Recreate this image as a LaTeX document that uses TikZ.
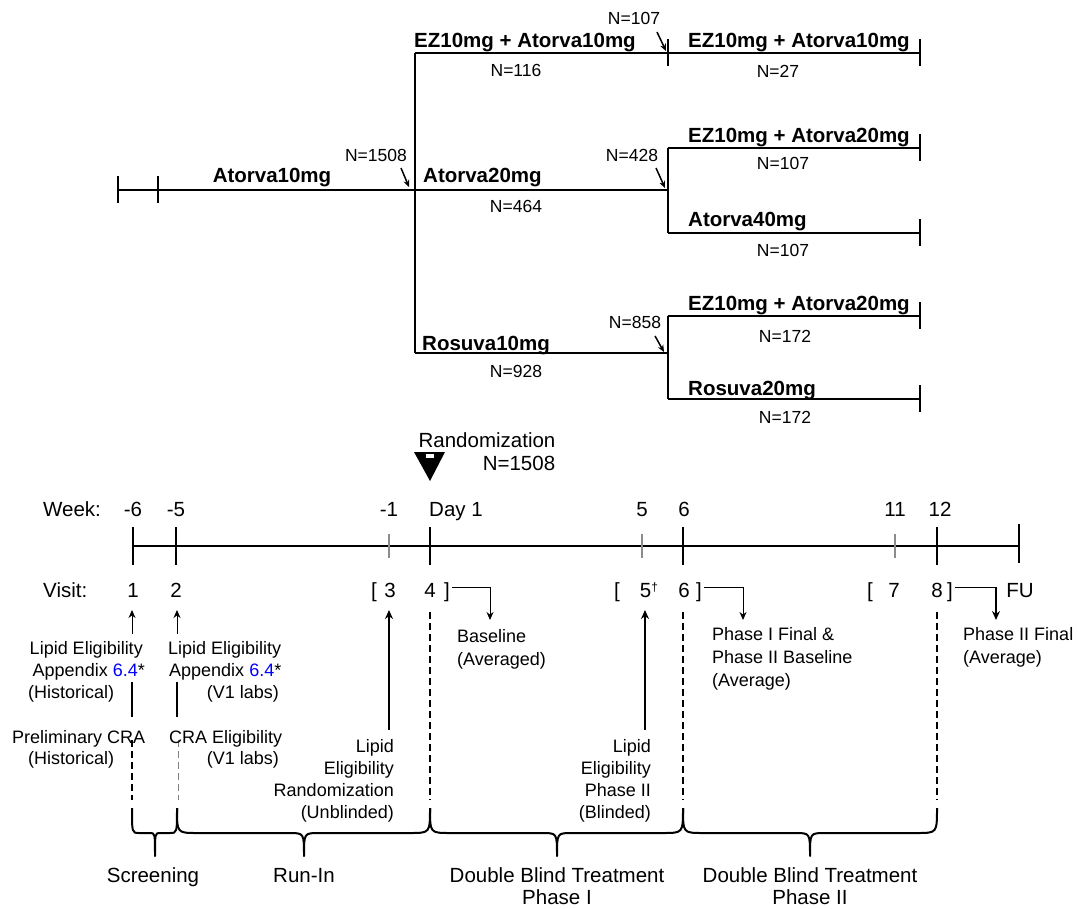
\documentclass[tikz,border=0pt]{standalone}
\usepackage{fontspec}
\setmainfont{Liberation Sans}
\usetikzlibrary{arrows.meta}
\newcommand{\drawbrace}[5]{%
  \draw[brc] (#1,808) .. controls (#1,833) .. (#1+#4,833) -- (#3-#5,833)
    .. controls (#3,833) .. (#3,856) .. controls (#3,833) .. (#3+#5,833)
    -- (#2-#4,833) .. controls (#2,833) .. (#2,808);}
\begin{document}
\begin{tikzpicture}[x=1pt,y=-1pt,
  tree/.style={line width=2.5pt},
  tck/.style={line width=2.2pt},
  gtck/.style={line width=1.6pt, draw=black!45},
  tline/.style={line width=2.8pt},
  bl/.style={font=\fontsize{20.5}{24}\selectfont\bfseries, inner sep=0pt},
  nl/.style={font=\fontsize{17.5}{21}\selectfont, inner sep=0pt},
  tl/.style={font=\fontsize{20.5}{24}\selectfont, inner sep=0pt},
  an/.style={font=\fontsize{18}{22}\selectfont, inner sep=0pt},
  sarr/.style={line width=1.5pt, -{Stealth[length=7pt,width=6pt]}},
  uarr/.style={line width=1pt, -{Stealth[length=8pt,width=7pt]}},
  barr/.style={line width=2.2pt, -{Stealth[length=9pt,width=8pt]}},
  dsh/.style={line width=2.2pt, dash pattern=on 7pt off 4pt},
  gdsh/.style={line width=0.8pt, draw=black!50, dash pattern=on 7pt off 4pt},
  brc/.style={line width=2pt, line join=round}]
\useasboundingbox (0,0) rectangle (1078,909);
% ---------------- tree ----------------
\coordinate (s0) at (118,190);
\coordinate (s1) at (158,190);
\coordinate (bT) at (415,53);
\coordinate (bB) at (415,353);
\coordinate (c1) at (668,53);
\coordinate (e1) at (920,53);
\coordinate (c2) at (668,190);
\coordinate (c2T) at (668,148);
\coordinate (c2B) at (668,233);
\coordinate (e2) at (920,148);
\coordinate (e3) at (920,233);
\coordinate (c3) at (668,353);
\coordinate (c3T) at (668,316);
\coordinate (c3B) at (668,399);
\coordinate (e4) at (920,316);
\coordinate (e5) at (920,399);
\draw[tree] (s0) -- (c2);
\draw[tree] (bT) -- (bB);
\draw[tree] (bT) -- (c1) -- (e1);
\draw[tree] (bB) -- (c3);
\draw[tree] (c2T) -- (c2B);
\draw[tree] (c2T) -- (e2);
\draw[tree] (c2B) -- (e3);
\draw[tree] (c3T) -- (c3B);
\draw[tree] (c3T) -- (e4);
\draw[tree] (c3B) -- (e5);
\foreach \p in {s0,s1,c1,e1,e2,e3,e4,e5}
  \draw[tck] ([yshift=14pt]\p) -- ([yshift=-13pt]\p);
\node[bl, anchor=base] (lA10) at (272,183) {Atorva10mg};
\node[bl, anchor=base west] (lEZa) at (414,48) {EZ10mg + Atorva10mg};
\node[bl, anchor=base west] (lA20) at (423,183) {Atorva20mg};
\node[bl, anchor=base west] (lR10) at (422,350) {Rosuva10mg};
\node[bl, anchor=base west] (lEZb) at (688,48) {EZ10mg + Atorva10mg};
\node[bl, anchor=base west] (lEZc) at (688,143) {EZ10mg + Atorva20mg};
\node[bl, anchor=base west] (lA40) at (688,227) {Atorva40mg};
\node[bl, anchor=base west] (lEZd) at (688,310) {EZ10mg + Atorva20mg};
\node[bl, anchor=base west] (lR20) at (688,395) {Rosuva20mg};
\node[nl, anchor=base] (n116) at (516,77) {N=116};
\node[nl, anchor=base] (n464) at (516,213) {N=464};
\node[nl, anchor=base] (n928) at (516,377) {N=928};
\node[nl, anchor=base] (n27) at (778,78) {N=27};
\node[nl, anchor=base] (n107a) at (783,170) {N=107};
\node[nl, anchor=base] (n107b) at (783,256) {N=107};
\node[nl, anchor=base] (n172a) at (785,342) {N=172};
\node[nl, anchor=base] (n172b) at (785,423) {N=172};
\node[nl, anchor=base] (n1508) at (376,162) {N=1508};
\node[nl, anchor=base] (n107t) at (634,25) {N=107};
\node[nl, anchor=base] (n428) at (632,162) {N=428};
\node[nl, anchor=base] (n858) at (635,328) {N=858};
\coordinate (a1s) at (401,168); \coordinate (a1e) at (409,187);
\coordinate (a2s) at (657,32);  \coordinate (a2e) at (666,51);
\coordinate (a3s) at (656,168); \coordinate (a3e) at (665,188);
\coordinate (a4s) at (655,336); \coordinate (a4e) at (664,352);
\draw[sarr] (a1s) -- (a1e);
\draw[sarr] (a2s) -- (a2e);
\draw[sarr] (a3s) -- (a3e);
\draw[sarr] (a4s) -- (a4e);
% ---------------- randomization ----------------
\node[tl, anchor=base] (rand) at (487,447) {Randomization};
\node[tl, anchor=base] (randN) at (519,470) {N=1508};
\fill (414,452) -- (445,452) -- (430,481) -- cycle;
\draw[fill=white, line width=0.6pt] (425.5,453) rectangle (434.5,458);
% ---------------- timeline ----------------
\coordinate (tm6) at (133,546);
\coordinate (tm5) at (176,546);
\coordinate (tm1) at (389,546);
\coordinate (t0) at (430,546);
\coordinate (t5) at (642,546);
\coordinate (t6) at (683,546);
\coordinate (t11) at (895,546);
\coordinate (t12) at (937,546);
\coordinate (tend) at (1019,546);
\draw[tline] (tm6) -- (tend);
\foreach \p in {tm6,tm5,t0,t6,t12}
  \draw[tck] ([yshift=19pt]\p) -- ([yshift=-19pt]\p);
\draw[tck] ([yshift=22pt]tend) -- ([yshift=-17pt]tend);
\foreach \p in {tm1,t5,t11}
  \draw[gtck] ([yshift=12pt]\p) -- ([yshift=-12pt]\p);
\node[tl, anchor=base west] (wk) at (43,516) {Week:};
\node[tl, anchor=base] (w1) at (133,516) {-6};
\node[tl, anchor=base] (w2) at (176,516) {-5};
\node[tl, anchor=base] (w3) at (389,516) {-1};
\node[tl, anchor=base west] (w4) at (429,516) {Day 1};
\node[tl, anchor=base] (w5) at (642,516) {5};
\node[tl, anchor=base] (w6) at (684,516) {6};
\node[tl, anchor=base] (w7) at (895,516) {11};
\node[tl, anchor=base] (w8) at (940,516) {12};
\node[tl, anchor=base west] (vs) at (43,597) {Visit:};
\node[tl, anchor=base] (v1) at (133,597) {1};
\node[tl, anchor=base] (v2) at (176,597) {2};
\node[tl, anchor=base] (lb3) at (374,597) {[};
\node[tl, anchor=base] (v3) at (390,597) {3};
\node[tl, anchor=base] (v4) at (430,597) {4};
\node[tl, anchor=base] (rb4) at (447,597) {]};
\node[tl, anchor=base] (lb5) at (617,597) {[};
\node[tl, anchor=base] (v5) at (649,597) {5{\fontsize{12}{12}\selectfont\raisebox{6pt}{†}}};
\node[tl, anchor=base] (v6) at (684,597) {6};
\node[tl, anchor=base] (rb6) at (699,597) {]};
\node[tl, anchor=base] (lb7) at (870,597) {[};
\node[tl, anchor=base] (v7) at (894,597) {7};
\node[tl, anchor=base] (v8) at (937,597) {8};
\node[tl, anchor=base] (rb8) at (950,597) {]};
\node[tl, anchor=base] (fu) at (1020,597) {FU};
% bracket connectors
\coordinate (k4a) at (452,587); \coordinate (k4b) at (490,587); \coordinate (k4c) at (490,620);
\coordinate (k6a) at (704,587); \coordinate (k6b) at (743,587); \coordinate (k6c) at (743,620);
\coordinate (k8a) at (955,587); \coordinate (k8b) at (996,587); \coordinate (k8c) at (996,620);
\draw[uarr] (k4a) -- (k4b) -- (k4c);
\draw[uarr] (k6a) -- (k6b) -- (k6c);
\draw[line width=1pt] (k8a) -- (k8b);
\draw[barr] (k8b) -- (k8c);
% vertical marks
\coordinate (u1a) at (132,634); \coordinate (u1b) at (132,610);
\coordinate (u2a) at (177,634); \coordinate (u2b) at (177,610);
\draw[uarr] (u1a) -- (u1b);
\draw[uarr] (u2a) -- (u2b);
\coordinate (q1a) at (132,682); \coordinate (q1b) at (132,717);
\coordinate (q2a) at (177,682); \coordinate (q2b) at (177,717);
\draw[tck] (q1a) -- (q1b);
\draw[tck] (q2a) -- (q2b);
\coordinate (d1a) at (132,740); \coordinate (d1b) at (132,800);
\coordinate (d2a) at (178,740); \coordinate (d2b) at (178,800);
\draw[dsh] (d1a) -- (d1b);
\draw[gdsh] (d2a) -- (d2b);
\coordinate (m1a) at (389,730); \coordinate (m1b) at (389,610);
\coordinate (m2a) at (645,730); \coordinate (m2b) at (645,610);
\draw[barr] (m1a) -- (m1b);
\draw[barr] (m2a) -- (m2b);
\foreach \x in {430,683,937} \draw[dsh] (\x,612) -- (\x,800);
% annotations
\node[an, anchor=base east] (c1a) at (143,654) {Lipid Eligibility};
\node[an, anchor=base east] (c1b) at (145,676) {Appendix \textcolor{blue}{6.4}*};
\node[an, anchor=base west] (c1c) at (28,698) {(Historical)};
\node[an, anchor=base west] (c1d) at (12,743) {Preliminary CRA};
\node[an, anchor=base west] (c1e) at (28,764) {(Historical)};
\node[an, anchor=base west] (c2a) at (168,654) {Lipid Eligibility};
\node[an, anchor=base west] (c2b) at (169,676) {Appendix \textcolor{blue}{6.4}*};
\node[an, anchor=base east] (c2c) at (279,698) {(V1 labs)};
\node[an, anchor=base west] (c2d) at (169,743) {CRA Eligibility};
\node[an, anchor=base east] (c2e) at (279,764) {(V1 labs)};
\node[an, anchor=base east] (m1t1) at (394,752) {Lipid};
\node[an, anchor=base east] (m1t2) at (394,774) {Eligibility};
\node[an, anchor=base east] (m1t3) at (394,796) {Randomization};
\node[an, anchor=base east] (m1t4) at (394,818) {(Unblinded)};
\node[an, anchor=base east] (m2t1) at (651,752) {Lipid};
\node[an, anchor=base east] (m2t2) at (651,774) {Eligibility};
\node[an, anchor=base east] (m2t3) at (651,796) {Phase II};
\node[an, anchor=base east] (m2t4) at (651,818) {(Blinded)};
\node[an, anchor=base west] (bs1) at (457,642) {Baseline};
\node[an, anchor=base west] (bs2) at (457,665) {(Averaged)};
\node[an, anchor=base west] (pf1) at (712,640) {Phase I Final \&};
\node[an, anchor=base west] (pf2) at (712,663) {Phase II Baseline};
\node[an, anchor=base west] (pf3) at (712,686) {(Average)};
\node[an, anchor=base west] (pg1) at (963,640) {Phase II Final};
\node[an, anchor=base west] (pg2) at (963,663) {(Average)};
% braces
\drawbrace{132}{177}{155}{7}{5}
\drawbrace{177}{430}{304}{20}{15}
\drawbrace{430}{683}{557}{20}{15}
\drawbrace{683}{937}{810}{20}{15}
\node[tl, anchor=base] (scr) at (153,882) {Screening};
\node[tl, anchor=base] (run) at (304,882) {Run-In};
\node[tl, anchor=base] (db1) at (557,882) {Double Blind Treatment};
\node[tl, anchor=base] (db1b) at (557,904) {Phase I};
\node[tl, anchor=base] (db2) at (810,882) {Double Blind Treatment};
\node[tl, anchor=base] (db2b) at (810,904) {Phase II};
\end{tikzpicture}
\end{document}
